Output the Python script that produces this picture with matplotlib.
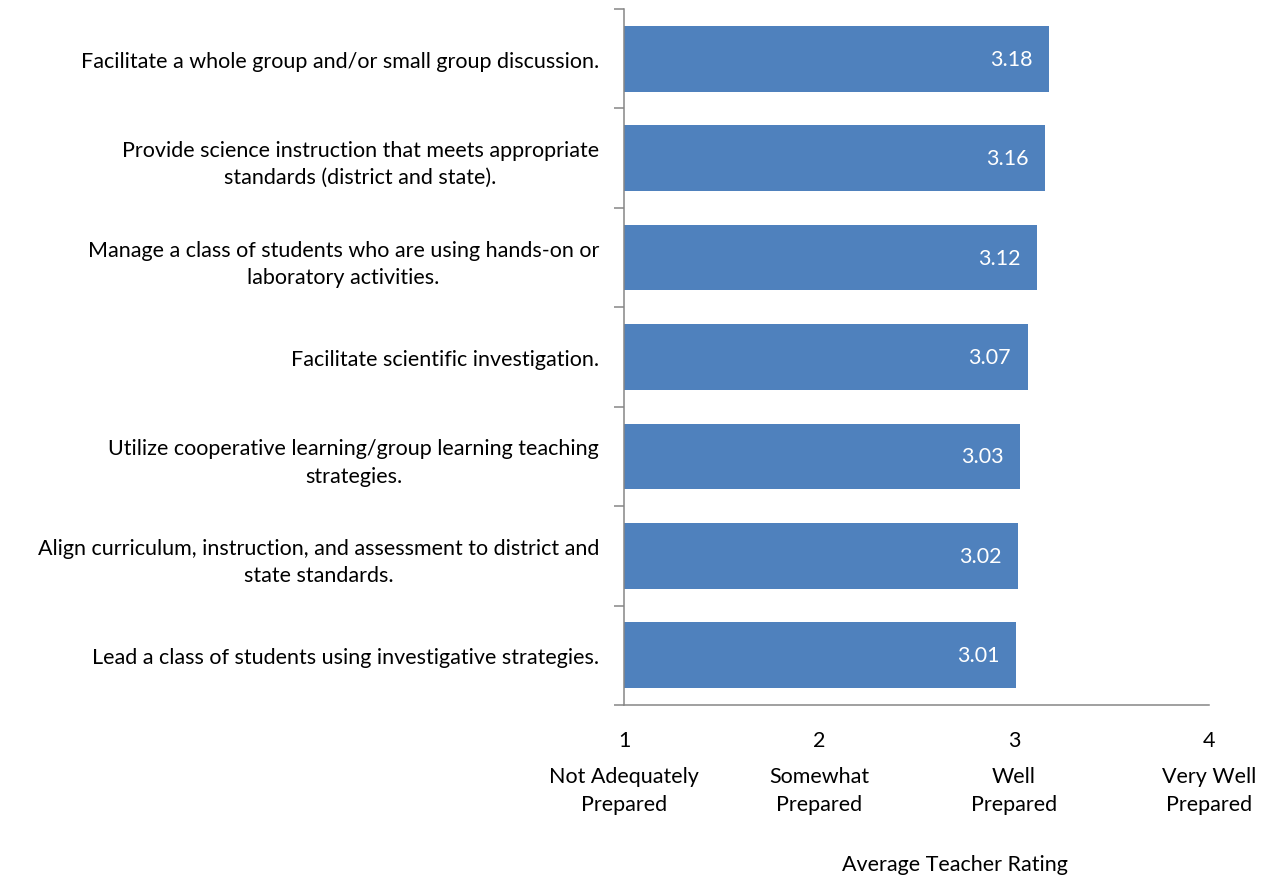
import matplotlib
matplotlib.use("Agg")
import matplotlib.pyplot as plt
import matplotlib.transforms as mtransforms

plt.rcParams["font.family"] = ["Lato", "DejaVu Sans"]

# survey items, top to bottom
items = [
    "Facilitate a whole group and/or small group discussion.",
    "Provide science instruction that meets appropriate\nstandards (district and state).",
    "Manage a class of students who are using hands-on or\nlaboratory activities.",
    "Facilitate scientific investigation.",
    "Utilize cooperative learning/group learning teaching\nstrategies.",
    "Align curriculum, instruction, and assessment to district and\nstate standards.",
    "Lead a class of students using investigative strategies.",
]
ratings = [3.18, 3.16, 3.12, 3.07, 3.03, 3.02, 3.01]

scale_values = [1, 2, 3, 4]
scale_labels = ["Not Adequately\nPrepared", "Somewhat\nPrepared", "Well\nPrepared",
                "Very Well\nPrepared"]

BAR = "#4F81BD"
AXIS = "#868686"
FS = 15.5

fig = plt.figure(figsize=(12.71, 8.78), dpi=100)
ax = fig.add_axes([624 / 1271, 1 - 706 / 878, (1209 - 624) / 1271, (706 - 10) / 878])

ypos = list(range(len(items)))
# bars start at the scale floor of 1
ax.barh(ypos, [r - 1 for r in ratings], left=1, height=0.66, color=BAR, zorder=2)
for y, r in zip(ypos, ratings):
    ax.text(r - 0.085, y, f"{r:.2f}", ha="right", va="center", color="white", fontsize=FS)

ax.set_xlim(1, 4)
ax.set_ylim(len(items) - 0.5, -0.5)

ax.set_yticks(ypos)
ax.set_yticklabels(items, multialignment="center", fontsize=FS, linespacing=1.45)
ax.set_yticks([i - 0.5 for i in range(len(items) + 1)], minor=True)
ax.tick_params(axis="y", which="major", length=0, pad=18)
ax.tick_params(axis="y", which="minor", length=7, width=1.1, color=AXIS)

ax.set_xticks(scale_values)
ax.set_xticklabels([str(v) for v in scale_values], fontsize=FS)
ax.tick_params(axis="x", length=0, pad=18)

trans = mtransforms.blended_transform_factory(ax.transData, fig.transFigure)
for v, lab in zip(scale_values, scale_labels):
    ax.text(v, 1 - 791 / 878, lab, transform=trans, ha="center", va="center",
            fontsize=FS, linespacing=1.45)

fig.text(955 / 1271, 1 - 865 / 878, "Average Teacher Rating", ha="center", va="center",
         fontsize=FS)

for s in ["top", "right"]:
    ax.spines[s].set_visible(False)
for s in ["left", "bottom"]:
    ax.spines[s].set_color(AXIS)
    ax.spines[s].set_linewidth(1.1)

fig.savefig("out.png", dpi=100, facecolor="white")
